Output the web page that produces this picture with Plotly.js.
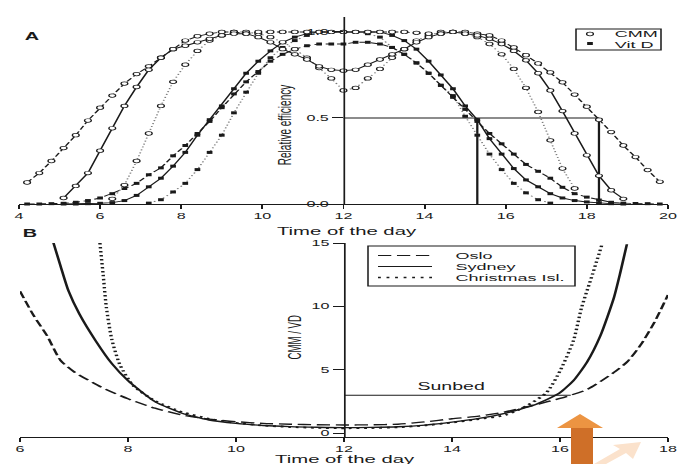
<!DOCTYPE html>
<html>
<head>
<meta charset="utf-8">
<script src="https://cdn.plot.ly/plotly-3.0.1.min.js"></script>
<style>
  html, body { margin: 0; padding: 0; background: #ffffff; overflow: hidden; }
  #wrap { width: 361px; height: 464px; transform-origin: 0 0; }
</style>
</head>
<body>
<div id="wrap"><div id="chart"></div></div>
<script>
// ---------- DATA ----------
// Panel A: time of day (h)
const timeA = [4.2,4.5,4.8,5.1,5.4,5.7,6.0,6.3,6.6,6.9,7.2,7.5,7.8,8.1,8.4,8.7,9.0,9.3,9.6,9.9,10.2,10.5,10.8,11.1,11.4,11.7,12.0,12.3,12.6,12.9,13.2,13.5,13.8,14.1,14.4,14.7,15.0,15.3,15.6,15.9,16.2,16.5,16.8,17.1,17.4,17.7,18.0,18.3,18.6,18.9,19.2,19.5,19.8];
// Relative efficiency, CMM (open circles)
const cmmOslo = [0.125,0.18,0.25,0.325,0.40,0.485,0.56,0.63,0.70,0.755,0.80,0.85,0.90,0.95,0.975,0.99,1.0,1.0,0.99,1.0,1.0,1.0,1.0,1.0,1.0,1.0,1.0,1.0,1.0,1.0,1.0,1.0,0.995,0.99,0.99,1.0,1.0,0.99,0.98,0.95,0.91,0.865,0.817,0.765,0.707,0.636,0.566,0.49,0.418,0.34,0.273,0.197,0.129];
const cmmSydney = [null,null,null,0.035,0.105,0.18,0.31,0.44,0.57,0.68,0.78,0.85,0.90,0.92,0.94,0.96,0.98,0.99,0.99,0.97,0.94,0.90,0.87,0.84,0.80,0.78,0.775,0.78,0.81,0.84,0.87,0.90,0.94,0.97,0.99,1.0,0.99,0.98,0.96,0.93,0.89,0.835,0.76,0.66,0.54,0.41,0.283,0.164,0.08,0.03,null,null,null];
const cmmXmas = [null,null,null,null,null,null,null,0.03,0.11,0.25,0.41,0.57,0.71,0.81,0.89,0.95,0.98,1.0,1.0,0.99,0.97,0.94,0.90,0.85,0.79,0.73,0.66,0.675,0.73,0.785,0.85,0.90,0.95,0.98,1.0,1.0,0.99,0.97,0.93,0.87,0.785,0.675,0.535,0.37,0.206,0.09,null,null,null,null,null,null,null];
// Relative efficiency, Vit D (filled squares)
const vitdOslo = [0.0,0.0,0.002,0.004,0.01,0.02,0.035,0.06,0.09,0.12,0.17,0.21,0.28,0.34,0.41,0.48,0.56,0.64,0.71,0.77,0.83,0.87,0.90,0.92,0.93,0.93,0.93,0.94,0.94,0.93,0.91,0.87,0.82,0.76,0.69,0.62,0.55,0.48,0.41,0.35,0.29,0.23,0.19,0.15,0.097,0.06,0.04,0.023,0.01,0.005,0.003,0.002,0.0];
const vitdSydney = [null,null,null,0.0,0.0,0.002,0.004,0.008,0.02,0.05,0.10,0.15,0.22,0.30,0.40,0.49,0.57,0.67,0.76,0.83,0.89,0.94,0.97,0.99,1.0,1.0,1.0,1.0,1.0,1.0,0.98,0.95,0.90,0.83,0.75,0.67,0.57,0.49,0.38,0.29,0.206,0.14,0.10,0.06,0.035,0.02,0.012,0.006,0.002,0.0,null,null,null];
const vitdXmas = [null,null,null,null,null,null,null,null,null,null,0.005,0.025,0.07,0.12,0.20,0.30,0.40,0.53,0.65,0.76,0.85,0.91,0.95,0.98,1.0,1.0,1.0,1.0,0.99,0.97,0.91,0.87,0.82,0.76,0.69,0.63,0.51,0.40,0.29,0.20,0.12,0.065,0.025,0.005,null,null,null,null,null,null,null,null,null];
// Half-efficiency markers
const halfLevel = 0.5;
const halfTimes = [15.3, 18.3];
const noon = 12;

// Panel B: CMM / VD ratio
const osloT = [6.0,6.25,6.5,6.75,7.0,7.5,8.0,8.5,9.0,9.5,10.0,10.5,11.0,11.5,12.0,12.5,13.0,13.5,14.0,14.5,15.0,15.5,16.0,16.5,17.0,17.25,17.5,17.75,18.0];
const osloR = [11.2,9.3,7.7,5.75,4.85,3.65,2.72,1.98,1.45,1.12,0.92,0.78,0.72,0.68,0.66,0.67,0.72,0.9,1.15,1.35,1.7,2.2,2.75,3.45,4.8,5.65,7.0,8.75,10.9];
const sydneyT = [6.62,6.75,6.9,7.1,7.4,7.7,8.0,8.5,9.0,9.5,10.0,10.5,11.0,11.5,12.0,12.5,13.0,13.5,14.0,14.5,15.0,15.5,15.75,16.0,16.25,16.5,16.75,17.0,17.12,17.24];
const sydneyR = [15.0,13.2,11.2,9.4,7.3,5.5,4.15,2.5,1.58,1.05,0.78,0.62,0.53,0.48,0.45,0.47,0.52,0.65,0.88,1.18,1.6,2.2,2.65,3.2,4.15,5.6,7.7,10.7,12.7,14.9];
const xmasT = [7.48,7.54,7.6,7.7,7.85,8.1,8.5,9.0,9.5,10.0,10.5,11.0,11.5,12.0,12.5,13.0,13.5,14.0,14.5,15.0,15.4,15.75,16.0,16.25,16.4,16.6,16.78];
const xmasR = [15.0,12.5,9.9,7.4,5.4,3.75,2.55,1.68,1.15,0.82,0.62,0.50,0.43,0.40,0.42,0.48,0.62,0.85,1.12,1.45,2.2,3.2,4.9,7.3,9.9,12.5,14.9];
const sunbedRatio = 3.0;
const sunbedEnd = 16.2;

const ticksA = [4,6,8,10,12,14,16,18,20];
const ticksAy = [0, 0.5, 1.0];
const ticksAyText = ['0.0','0.5','1.0'];
const ticksB = [6,8,10,12,14,16,18];
const ticksBy = [0,5,10,15];

// ---------- LAYOUT HELPERS ----------
const W = 361, H = 464;
const S = 685 / W;             // horizontal stretch of the original figure
document.getElementById('wrap').style.transform = 'scaleX(' + S + ')';
const ML = 10, MR = 9, MT = 17, MB = 27;
const PW = W - ML - MR, PH = H - MT - MB;
function px(X) { return (X / S - ML) / PW; }
function py(Y) { return (H - MB - Y) / PH; }

const FONT = 'Liberation Sans, Arial, Helvetica, sans-serif';
const INK = '#1a1a1a';

function topTrace(y, symbol, dash, color, size, mcolor, mline) {
  return {
    x: timeA, y: y, xaxis: 'x', yaxis: 'y', type: 'scatter', mode: 'lines+markers',
    cliponaxis: false, connectgaps: false,
    line: {color: color, width: 0.9, dash: dash},
    marker: {symbol: symbol, size: size, color: mcolor, line: {color: INK, width: mline}},
    hoverinfo: 'skip'
  };
}

const traces = [
  // reference lines in A
  {x: [noon, halfTimes[1]], y: [halfLevel, halfLevel], xaxis: 'x', yaxis: 'y', mode: 'lines',
   line: {color: INK, width: 0.8}, hoverinfo: 'skip'},
  {x: [halfTimes[0], halfTimes[0]], y: [0, halfLevel], xaxis: 'x', yaxis: 'y', mode: 'lines',
   line: {color: INK, width: 1.2}, hoverinfo: 'skip'},
  {x: [halfTimes[1], halfTimes[1]], y: [0, halfLevel], xaxis: 'x', yaxis: 'y', mode: 'lines',
   line: {color: INK, width: 1.2}, hoverinfo: 'skip'},
  // Vit D
  topTrace(vitdXmas, 'square', '1px,2px', '#777', 3, INK, 0),
  topTrace(vitdOslo, 'square', '4px,2px', INK, 3, INK, 0),
  topTrace(vitdSydney, 'square', 'solid', INK, 3, INK, 0),
  // CMM
  topTrace(cmmXmas, 'circle', '1px,2px', '#777', 3.6, '#ffffff', 0.7),
  topTrace(cmmOslo, 'circle', '4px,2px', INK, 3.6, '#ffffff', 0.7),
  topTrace(cmmSydney, 'circle', 'solid', INK, 3.6, '#ffffff', 0.7),
  // Panel B
  {x: [noon, sunbedEnd], y: [sunbedRatio, sunbedRatio], xaxis: 'x2', yaxis: 'y2', mode: 'lines',
   line: {color: INK, width: 0.8}, hoverinfo: 'skip'},
  {x: osloT, y: osloR, xaxis: 'x2', yaxis: 'y2', mode: 'lines', name: 'Oslo',
   line: {color: INK, width: 1.4, dash: '7px,3px', shape: 'spline', smoothing: 0.6}, hoverinfo: 'skip'},
  {x: sydneyT, y: sydneyR, xaxis: 'x2', yaxis: 'y2', mode: 'lines', name: 'Sydney',
   line: {color: INK, width: 1.4, shape: 'spline', smoothing: 0.6}, hoverinfo: 'skip'},
  {x: xmasT, y: xmasR, xaxis: 'x2', yaxis: 'y2', mode: 'lines', name: 'Christmas Isl.',
   line: {color: INK, width: 1.8, dash: '1.5px,2.5px', shape: 'spline', smoothing: 0.6}, hoverinfo: 'skip'}
];

const axisCommon = {
  showgrid: false, zeroline: false, showline: true, linecolor: INK, linewidth: 1,
  ticks: 'outside', tickcolor: INK, tickwidth: 1,
  tickfont: {family: FONT, size: 8.5, color: INK}
};

const shapes = [];
const annotations = [];
function ann(text, X, Y, opts) {
  annotations.push(Object.assign({
    text: text, xref: 'paper', yref: 'paper', x: px(X), y: py(Y),
    xanchor: 'center', yanchor: 'middle', showarrow: false,
    font: {family: FONT, size: 10, color: INK}
  }, opts || {}));
}
function rectPx(X0, Y0, X1, Y1, style) {
  shapes.push(Object.assign({type: 'rect', xref: 'paper', yref: 'paper',
    x0: px(X0), x1: px(X1), y0: py(Y1), y1: py(Y0)}, style));
}
function linePx(X0, Y0, X1, Y1, line) {
  shapes.push({type: 'line', xref: 'paper', yref: 'paper',
    x0: px(X0), x1: px(X1), y0: py(Y0), y1: py(Y1), line: line});
}
function pathPx(pts, fill) {
  const d = pts.map((p, i) => (i ? 'L' : 'M') + px(p[0]).toFixed(5) + ',' + py(p[1]).toFixed(5)).join(' ') + ' Z';
  shapes.push({type: 'path', xref: 'paper', yref: 'paper', path: d,
    fillcolor: fill, line: {width: 0}, layer: 'above'});
}

// Panel letters & titles
ann('<b>A</b>', 33, 36, {font: {family: FONT, size: 10.5, color: INK}});
ann('<b>B</b>', 31, 233.5, {font: {family: FONT, size: 10.5, color: INK}});
ann('Time of the day', 347, 230.5, {font: {family: FONT, size: 10.7, color: INK}});
ann('Time of the day', 346, 458.5, {font: {family: FONT, size: 10.7, color: INK}});
ann('Relative efficiency', 285, 125, {textangle: -90, font: {family: FONT, size: 10, color: INK}});
ann('CMM / VD', 293, 337, {textangle: -90, font: {family: FONT, size: 9.6, color: INK}});
annotations.push({text: 'Sunbed', xref: 'x2', yref: 'y2', x: 14.0, y: sunbedRatio,
  xanchor: 'center', yanchor: 'bottom', yshift: 1, showarrow: false,
  font: {family: FONT, size: 10.3, color: INK}});

// Legend A
rectPx(576, 29, 661, 50, {line: {color: INK, width: 0.8}, fillcolor: 'rgba(255,255,255,0)'});
shapes.push({type: 'circle', xref: 'paper', yref: 'paper',
  x0: px(590) - 1.8 / PW, x1: px(590) + 1.8 / PW, y0: py(34) - 1.8 / PH, y1: py(34) + 1.8 / PH,
  line: {color: INK, width: 0.7}, fillcolor: '#ffffff'});
shapes.push({type: 'rect', xref: 'paper', yref: 'paper',
  x0: px(590) - 1.5 / PW, x1: px(590) + 1.5 / PW, y0: py(43.5) - 1.5 / PH, y1: py(43.5) + 1.5 / PH,
  line: {width: 0}, fillcolor: INK});
ann('CMM', 611, 34, {xanchor: 'left', font: {family: FONT, size: 9.5, color: INK}});
ann('Vit D', 611, 44, {xanchor: 'left', font: {family: FONT, size: 9.5, color: INK}});

// Legend B
rectPx(368, 246, 575, 286, {line: {color: INK, width: 0.8}, fillcolor: 'rgba(255,255,255,0)'});
linePx(378, 255.5, 432, 255.5, {color: INK, width: 1.2, dash: '7px,3px'});
linePx(378, 266.5, 432, 266.5, {color: INK, width: 1.2});
linePx(378, 277.5, 432, 277.5, {color: INK, width: 1.6, dash: '1.5px,3px'});
ann('Oslo', 451, 255.5, {xanchor: 'left', font: {family: FONT, size: 9.5, color: INK}});
ann('Sydney', 451, 266.5, {xanchor: 'left', font: {family: FONT, size: 9.5, color: INK}});
ann('Christmas Isl.', 451, 277.5, {xanchor: 'left', font: {family: FONT, size: 9.5, color: INK}});

// Decorative orange arrow at the bottom
pathPx([[594, 464], [620, 449], [613, 445], [641, 442], [633, 459], [626, 453], [606, 464]], '#fbe2cc');
pathPx([[571, 427], [593, 427], [593, 464], [571, 464]], '#cf6f28');
pathPx([[557, 428], [580, 414], [603, 428]], '#ec9442');

const layout = {
  width: W, height: H,
  margin: {l: ML, r: MR, t: MT, b: MB, pad: 0},
  paper_bgcolor: '#ffffff', plot_bgcolor: 'rgba(0,0,0,0)',
  showlegend: false,
  font: {family: FONT, color: INK},
  xaxis: Object.assign({}, axisCommon, {domain: [0, 1], range: [4, 20], anchor: 'y',
    tickvals: ticksA, ticklen: 4}),
  yaxis: Object.assign({}, axisCommon, {domain: [(H - MB - 204) / PH, 1], range: [0, 1.087],
    anchor: 'free', position: 0.5, tickvals: ticksAy, ticktext: ticksAyText, ticklen: 6, linewidth: 0.9}),
  xaxis2: Object.assign({}, axisCommon, {domain: [0.0016, 1], range: [6, 18], anchor: 'y2',
    tickvals: ticksB, ticklen: 4}),
  yaxis2: Object.assign({}, axisCommon, {domain: [0, (H - MB - 243) / PH], range: [-0.29, 15],
    anchor: 'free', position: 0.0016 + 0.5 * 0.9984, tickvals: ticksBy, ticklen: 6, linewidth: 0.9}),
  shapes: shapes,
  annotations: annotations
};

Plotly.newPlot('chart', traces, layout, {displayModeBar: false, staticPlot: true});
</script>
</body>
</html>
